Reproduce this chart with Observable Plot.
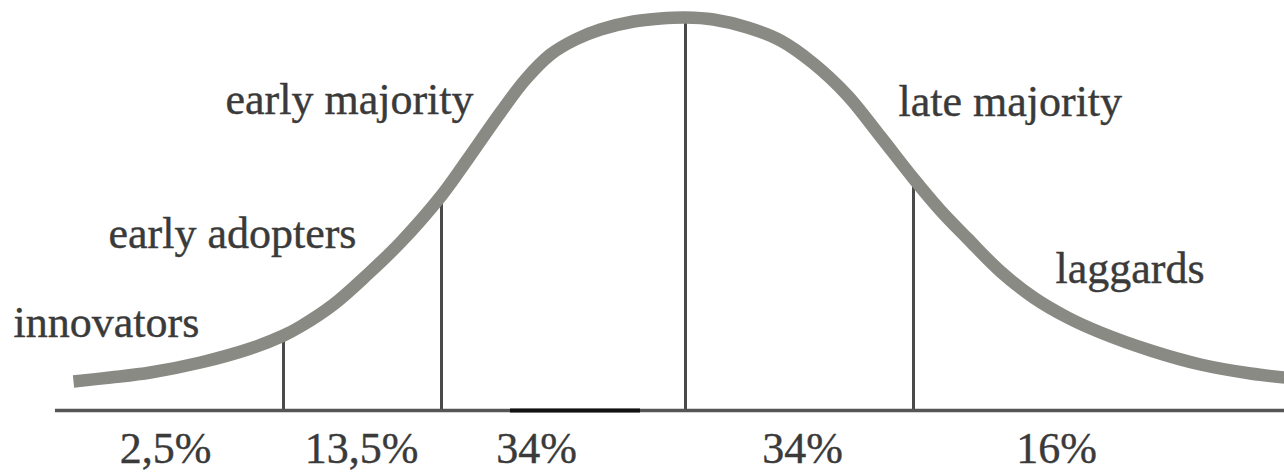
<!DOCTYPE html>
<html>
<head>
<meta charset="utf-8">
<script src="https://cdn.jsdelivr.net/npm/d3@7"></script>
<script src="https://cdn.jsdelivr.net/npm/@observablehq/plot@0.6"></script>
<style>
  html, body { margin: 0; padding: 0; background: #fff; }
  svg { display: block; }
</style>
</head>
<body>
<div id="chart"></div>
<script>
// Curve: horizontal position and height above the baseline
const curveX = [73, 110, 150, 200, 250, 283, 300, 333, 367, 400, 441, 467, 500, 525, 550, 575, 600, 633, 660, 685,
                713, 747, 780, 813, 847, 880, 913, 940, 967, 1000, 1033, 1067, 1100, 1150, 1200, 1250, 1284];
const curveH = [29, 33, 38, 48, 62, 75, 84, 106, 136, 168, 215, 251, 298, 331, 356, 371, 381, 389, 392, 393,
                391, 383, 370, 347, 315, 274, 232, 200, 172, 139, 113, 93, 78, 60, 46, 37, 33];

// Segment boundaries (vertical dividers) and where they meet the curve
const dividerX = [283, 441, 685, 913];
const dividerTop = [73, 211, 388, 226];

// Adopter categories
const categories = ["innovators", "early adopters", "early majority", "late majority", "laggards"];
const categoryX = [13, 108, 225, 898, 1055];
const categoryH = [88, 177, 311, 309, 142];

// Shares
const shares = ["2,5%", "13,5%", "34%", "34%", "16%"];
const shareX = [165, 361, 536, 802, 1056];
const shareH = [-38, -38, -38, -38, -38];

// Baseline extent and the darker scanned segment on it
const baseX = [55, 1284];
const darkX = [510, 640];

const curve = curveX.map((x, i) => ({x, h: curveH[i]}));
const dividers = dividerX.map((x, i) => ({x, top: dividerTop[i]}));
const cats = categories.map((t, i) => ({t, x: categoryX[i], h: categoryH[i]}));
const pct = shares.map((t, i) => ({t, x: shareX[i], h: shareH[i]}));

const chart = Plot.plot({
  width: 1284,
  height: 475,
  marginLeft: 0,
  marginRight: 0,
  marginTop: 0,
  marginBottom: 65,
  x: {domain: [0, 1284], axis: null},
  y: {domain: [0, 410], axis: null},
  style: {background: "#fff", fontFamily: "'Liberation Serif', serif"},
  marks: [
    Plot.ruleX(dividers, {x: "x", y1: 0, y2: "top", stroke: "#4a4a4a", strokeWidth: 3}),
    Plot.ruleY([0], {x1: baseX[0], x2: baseX[1], stroke: "#555", strokeWidth: 3.5}),
    Plot.ruleY([0], {x1: darkX[0], x2: darkX[1], stroke: "#111", strokeWidth: 4}),
    Plot.line(curve, {x: "x", y: "h", curve: "catmull-rom", stroke: "#8a8a84", strokeWidth: 12.5, strokeLinecap: "butt"}),
    Plot.text(cats, {x: "x", y: "h", text: "t", textAnchor: "start", fontSize: 44, fill: "#3a3a3a", stroke: "#3a3a3a", strokeWidth: 0.4}),
    Plot.text(pct, {x: "x", y: "h", text: "t", textAnchor: "middle", fontSize: 44, fill: "#3a3a3a", stroke: "#3a3a3a", strokeWidth: 0.4})
  ]
});
document.getElementById("chart").appendChild(chart);
</script>
</body>
</html>
